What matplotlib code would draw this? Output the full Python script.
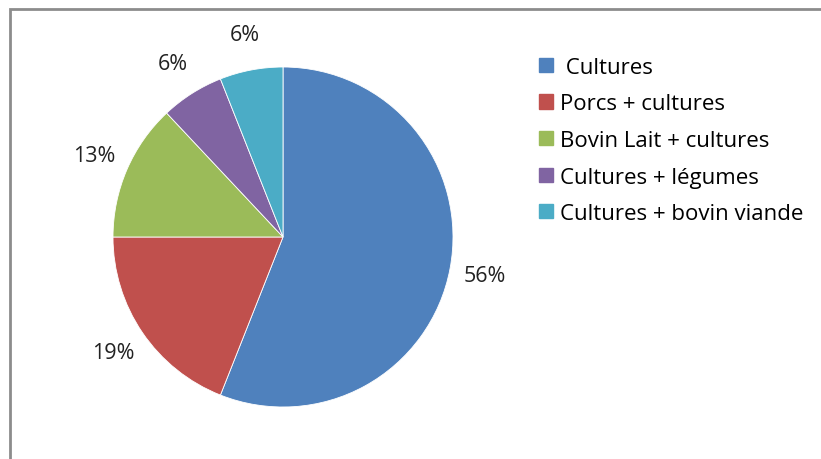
import matplotlib.pyplot as plt
from matplotlib.patches import Patch

# farm types and their share (%)
labels = [" Cultures", "Porcs + cultures", "Bovin Lait + cultures",
          "Cultures + légumes", "Cultures + bovin viande"]
shares = [56, 19, 13, 6, 6]
colors = ["#4F81BD", "#C0504D", "#9BBB59", "#8064A2", "#4BACC6"]

plt.rcParams["font.family"] = ["Open Sans", "DejaVu Sans"]

fig = plt.figure(figsize=(8.21, 4.6), dpi=100)

# pie area: centre (283, 238) px, radius 170 px
W, H = 821, 460
r = 170
ax = fig.add_axes([(283 - r) / W, 1 - (238 + r) / H, 2 * r / W, 2 * r / H])
ax.pie(shares, colors=colors, startangle=90, counterclock=False,
       autopct="%d%%", pctdistance=1.21, radius=1,
       wedgeprops=dict(edgecolor="white", linewidth=0.6),
       textprops=dict(fontsize=15.5, color="#222222"))
ax.set_xlim(-1, 1)
ax.set_ylim(-1, 1)
ax.set_aspect("auto")
ax.axis("off")

# chart frame
frame = plt.Rectangle((10 / W, -0.1), 1.2, (450 + 0.1 * H) / H, transform=fig.transFigure,
                      fill=False, edgecolor="#8c8c8c", linewidth=2)
fig.patches.append(frame)

handles = [Patch(facecolor=c, edgecolor=c) for c in colors]
fig.legend(handles, labels, loc="upper left", bbox_to_anchor=(530 / W, 1 - 49 / H),
           frameon=False, fontsize=16, handlelength=0.62, handleheight=0.62,
           handletextpad=0.35, labelspacing=0.7, borderaxespad=0)

fig.savefig("out.png", dpi=100)
